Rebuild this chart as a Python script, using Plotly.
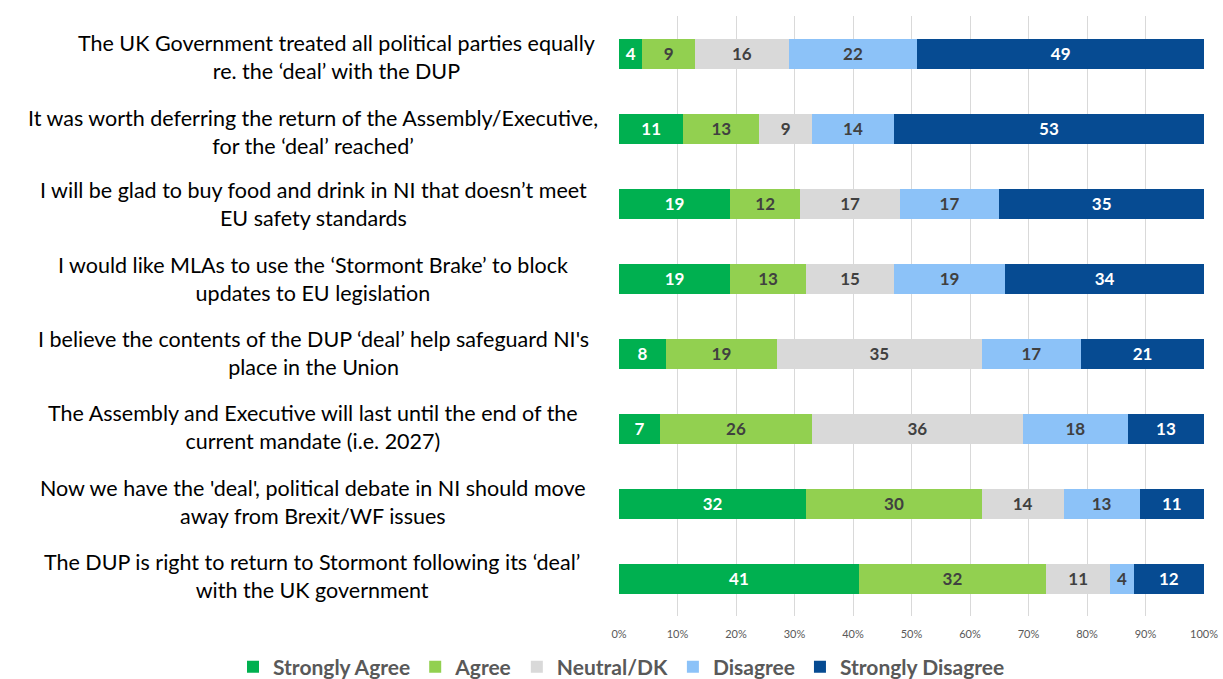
import plotly.graph_objects as go

statements = [
    "The UK Government treated all political parties equally<br>re. the ‘deal’ with the DUP",
    "It was worth deferring the return of the Assembly/Executive,<br>for the ‘deal’ reached’",
    "I will be glad to buy food and drink in NI that doesn’t meet<br>EU safety standards",
    "I would like MLAs to use the ‘Stormont Brake’ to block<br>updates to EU legislation",
    "I believe the contents of the DUP ‘deal’ help safeguard NI's<br>place in the Union",
    "The Assembly and Executive will last until the end of the<br>current mandate (i.e. 2027)",
    "Now we have the 'deal', political debate in NI should move<br>away from Brexit/WF issues",
    "The DUP is right to return to Stormont following its ‘deal’<br>with the UK government",
]
categories = [f"S{i+1}" for i in range(len(statements))]

series_names = ["Strongly Agree", "Agree", "Neutral/DK", "Disagree", "Strongly Disagree"]
strongly_agree = [4, 11, 19, 19, 8, 7, 32, 41]
agree = [9, 13, 12, 13, 19, 26, 30, 32]
neutral = [16, 9, 17, 15, 35, 36, 14, 11]
disagree = [22, 14, 17, 19, 17, 18, 13, 4]
strongly_disagree = [49, 53, 35, 34, 21, 13, 11, 12]
series_values = [strongly_agree, agree, neutral, disagree, strongly_disagree]

tick_vals = [0, 10, 20, 30, 40, 50, 60, 70, 80, 90, 100]
tick_text = [f"{v}%" for v in tick_vals]

colors = ["#00B050", "#92D050", "#D9D9D9", "#8CC2F8", "#064B92"]
text_colors = ["#FFFFFF", "#404040", "#404040", "#404040", "#FFFFFF"]

FONT = "Lato"
W, H = 1223, 679
L_MARGIN, R_MARGIN = 619, 19
PLOT_W = W - L_MARGIN - R_MARGIN

# layout-only tweaks for the statement labels (pixel centres / vertical nudges)
label_center_px = [336, 313, 313, 313, 313, 313, 313, 312]
label_yshift = [-3, -3, -0.5, -0.5, 0.5, 2, 1.5, 3]

fig = go.Figure()
for name, vals, col, tcol in zip(series_names, series_values, colors, text_colors):
    fig.add_trace(go.Bar(
        y=categories, x=vals, name=name, orientation="h",
        marker=dict(color=col, line=dict(width=0)),
        text=vals, texttemplate="%{text}", textposition="inside",
        insidetextanchor="middle", constraintext="none",
        textfont=dict(color=tcol, size=17, family=FONT, weight="bold"),
        hoverinfo="skip",
    ))

for cat, label, cx, ys in zip(categories, statements, label_center_px, label_yshift):
    fig.add_annotation(
        x=(cx - L_MARGIN) / PLOT_W, xref="paper", y=cat, yref="y",
        text=label, showarrow=False, xanchor="center", yanchor="middle",
        yshift=ys, align="center",
        font=dict(size=21.5, family=FONT, color="#000000"),
    )

fig.update_layout(
    width=W, height=H,
    barmode="stack", bargap=0.6,
    plot_bgcolor="white", paper_bgcolor="white",
    margin=dict(l=L_MARGIN, r=R_MARGIN, t=16, b=63, autoexpand=False),
    font=dict(family=FONT),
    xaxis=dict(range=[0, 100], tickvals=tick_vals, ticktext=tick_text,
               showgrid=True, gridcolor="#D9D9D9", gridwidth=1,
               zeroline=False, showline=False, automargin=False,
               ticklabelstandoff=10,
               tickfont=dict(size=11, color="#595959", family=FONT), ticks=""),
    yaxis=dict(categoryorder="array", categoryarray=categories, autorange="reversed",
               showticklabels=False, showgrid=False, zeroline=False, ticks="",
               automargin=False),
    legend=dict(orientation="h", xref="paper", x=(233 - L_MARGIN) / PLOT_W, xanchor="left",
                yref="paper", y=-0.085, yanchor="middle",
                font=dict(size=21, color="#595959", family=FONT, weight="bold"),
                itemsizing="constant", traceorder="normal", itemclick=False,
                itemwidth=30, tracegroupgap=0),
    showlegend=True,
)

fig.write_html("out.html")
